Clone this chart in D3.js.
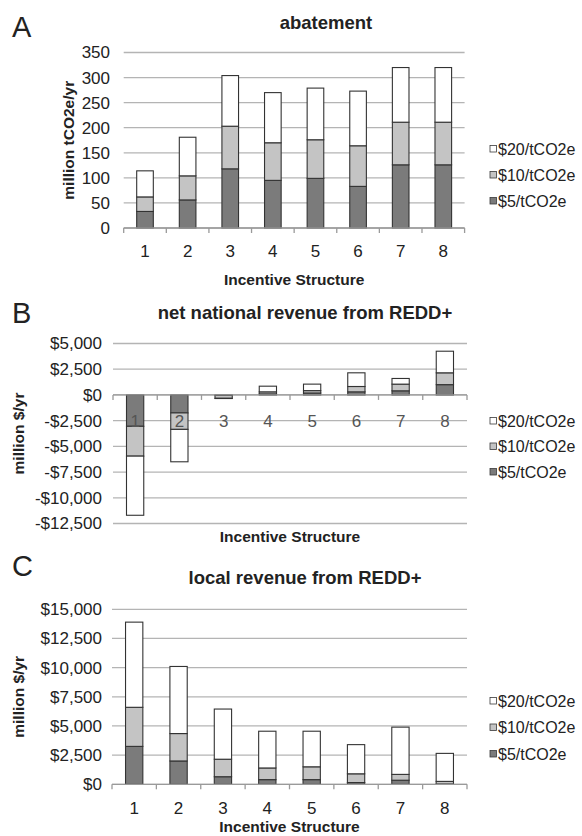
<!DOCTYPE html>
<html>
<head>
<meta charset="utf-8">
<script src="https://cdn.jsdelivr.net/npm/d3@7"></script>
<style>
  body { margin: 0; background: #fff; }
  svg text { font-family: Arial, "Liberation Sans", sans-serif; fill: #222; }
</style>
</head>
<body>
<div id="chart"></div>
<script>
// categories (incentive structures) and series
var categories = ["1", "2", "3", "4", "5", "6", "7", "8"];
var seriesNames = ["$5/tCO2e", "$10/tCO2e", "$20/tCO2e"];
var seriesColors = ["#7b7b7b", "#c4c4c4", "#ffffff"];

// A: abatement, million tCO2e/yr (segment heights)
var abate5  = [33, 56, 118, 95, 99, 83, 126, 126];
var abate10 = [29, 48, 85, 75, 77, 81, 85, 85];
var abate20 = [52, 77, 101, 100, 103, 109, 109, 109];

// B: net national revenue, million $/yr
var national5  = [-3050, -1750, -40, 100, 190, 300, 400, 1000];
var national10 = [-2900, -1600, -290, 200, 230, 520, 650, 1150];
var national20 = [-5750, -3150, -20, 550, 630, 1330, 550, 2100];

// C: local revenue, million $/yr
var local5  = [3250, 2000, 650, 400, 400, 150, 350, 30];
var local10 = [3350, 2350, 1500, 1000, 1100, 750, 500, 220];
var local20 = [7300, 5750, 4300, 3150, 3050, 2500, 4050, 2400];

// tick labels
var ticksA = [0, 50, 100, 150, 200, 250, 300, 350];
var ticksB = [-12500, -10000, -7500, -5000, -2500, 0, 2500, 5000];
var ticksC = [0, 2500, 5000, 7500, 10000, 12500, 15000];

var width = 582, height = 836;

var svg = d3.select("#chart").append("svg")
    .attr("width", width)
    .attr("height", height);

function money(v) {
    return (v < 0 ? "-" : "") + "$" + d3.format(",")(Math.abs(v));
}

function drawPanel(cfg) {
    var g = svg.append("g").attr("class", "panel");

    var x = d3.scaleBand()
        .domain(categories)
        .range([cfg.x0, cfg.x1])
        .paddingInner(0.61)
        .paddingOuter(0.305);

    var y = d3.scaleLinear()
        .domain([cfg.ticks[0], cfg.ticks[cfg.ticks.length - 1]])
        .range([cfg.yBottom, cfg.yTop]);

    // letter + title
    g.append("text").text(cfg.letter)
        .attr("x", 12).attr("y", cfg.letterY)
        .attr("font-size", 29);
    g.append("text").text(cfg.title)
        .attr("x", cfg.titleX).attr("y", cfg.titleY)
        .attr("text-anchor", "middle")
        .attr("font-size", 18.5).attr("font-weight", "bold");

    // gridlines
    g.append("g").selectAll("line")
        .data(cfg.ticks)
        .enter().append("line")
        .attr("x1", cfg.x0).attr("x2", cfg.x1)
        .attr("y1", function(d) { return y(d); })
        .attr("y2", function(d) { return y(d); })
        .attr("stroke", "#b4b4b4").attr("stroke-width", 1.3);

    // y tick labels
    g.append("g").selectAll("text")
        .data(cfg.ticks)
        .enter().append("text")
        .attr("x", cfg.labelX)
        .attr("y", function(d) { return y(d); })
        .attr("dy", "0.35em")
        .attr("text-anchor", "end")
        .attr("font-size", 17)
        .text(cfg.fmt);

    // stacked bars
    var rows = categories.map(function(c, i) {
        return { cat: c, s0: cfg.data[0][i], s1: cfg.data[1][i], s2: cfg.data[2][i] };
    });
    var stack = d3.stack().keys(["s0", "s1", "s2"]).offset(d3.stackOffsetDiverging);
    var layers = stack(rows);

    g.append("g").selectAll("g")
        .data(layers)
        .enter().append("g")
        .attr("fill", function(d, i) { return seriesColors[i]; })
        .selectAll("rect")
        .data(function(d) { return d; })
        .enter().append("rect")
        .attr("x", function(d) { return x(d.data.cat); })
        .attr("width", x.bandwidth())
        .attr("y", function(d) { return y(Math.max(d[0], d[1])); })
        .attr("height", function(d) { return Math.abs(y(d[0]) - y(d[1])); })
        .attr("stroke", "#333").attr("stroke-width", 1.1);

    // x axis line at zero with tick marks at category boundaries
    var y0 = y(0);
    g.append("line")
        .attr("x1", cfg.x0).attr("x2", cfg.x1)
        .attr("y1", y0).attr("y2", y0)
        .attr("stroke", "#9a9a9a").attr("stroke-width", 1.3);
    g.append("g").selectAll("line")
        .data(d3.range(categories.length + 1))
        .enter().append("line")
        .attr("x1", function(i) { return cfg.x0 + i * x.step(); })
        .attr("x2", function(i) { return cfg.x0 + i * x.step(); })
        .attr("y1", y0).attr("y2", y0 + 5)
        .attr("stroke", "#9a9a9a").attr("stroke-width", 1.3);

    // category labels
    g.append("g").selectAll("text")
        .data(categories)
        .enter().append("text")
        .attr("x", function(d) { return x(d) + x.bandwidth() / 2; })
        .attr("y", cfg.catY)
        .attr("text-anchor", "middle")
        .attr("font-size", 17)
        .style("fill", cfg.catColor || "#222")
        .text(function(d) { return d; });

    // axis titles
    g.append("text").text("Incentive Structure")
        .attr("x", (cfg.x0 + cfg.x1) / 2).attr("y", cfg.xTitleY)
        .attr("text-anchor", "middle")
        .attr("font-size", 15.5).attr("font-weight", "bold");
    g.append("text").text(cfg.yTitle)
        .attr("transform", "translate(" + cfg.yTitleX + "," + ((cfg.yTop + cfg.yBottom) / 2) + ") rotate(-90)")
        .attr("text-anchor", "middle")
        .attr("font-size", 15.5).attr("font-weight", "bold");

    // legend, top entry is $20
    var leg = g.append("g").selectAll("g")
        .data([2, 1, 0])
        .enter().append("g")
        .attr("transform", function(d, i) { return "translate(490," + (cfg.legendY + i * cfg.legendGap) + ")"; });
    leg.append("rect")
        .attr("x", 0).attr("y", -3.5).attr("width", 6.5).attr("height", 6.5)
        .attr("fill", function(d) { return seriesColors[d]; })
        .attr("stroke", "#3a3a3a").attr("stroke-width", 0.8);
    leg.append("text")
        .attr("x", 8).attr("y", 0).attr("dy", "0.35em")
        .attr("font-size", 16)
        .text(function(d) { return seriesNames[d]; });
}

drawPanel({
    letter: "A", letterY: 37, title: "abatement", titleX: 326, titleY: 29,
    x0: 123.7, x1: 464.6, yTop: 52.5, yBottom: 228, labelX: 110,
    ticks: ticksA, fmt: function(d) { return d; },
    data: [abate5, abate10, abate20],
    catY: 257, xTitleY: 284.5, yTitle: "million tCO2e/yr", yTitleX: 74,
    legendY: 149, legendGap: 26
});

drawPanel({
    letter: "B", letterY: 323, title: "net national revenue from REDD+", titleX: 305, titleY: 319,
    x0: 113, x1: 467, yTop: 343.5, yBottom: 523.5, labelX: 102,
    ticks: ticksB, fmt: money,
    data: [national5, national10, national20],
    catY: 426.5, catColor: "#555", xTitleY: 542, yTitle: "million $/yr", yTitleX: 24,
    legendY: 421, legendGap: 25.5
});

drawPanel({
    letter: "C", letterY: 576, title: "local revenue from REDD+", titleX: 305, titleY: 584,
    x0: 112, x1: 467, yTop: 609.3, yBottom: 784.3, labelX: 102,
    ticks: ticksC, fmt: money,
    data: [local5, local10, local20],
    catY: 814, xTitleY: 832, yTitle: "million $/yr", yTitleX: 24,
    legendY: 701, legendGap: 26.5
});
</script>
</body>
</html>
